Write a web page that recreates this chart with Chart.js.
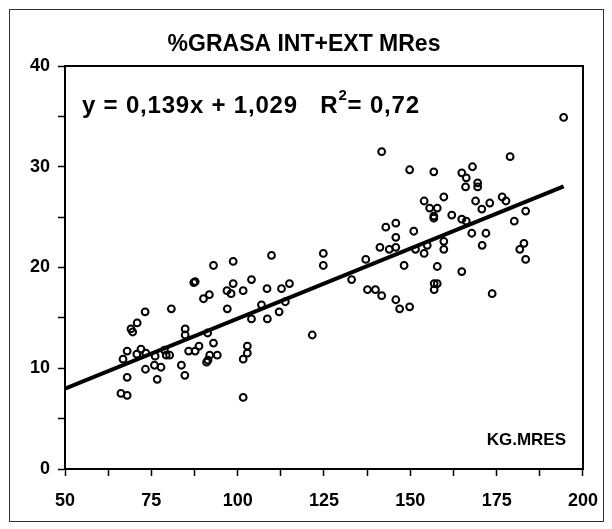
<!DOCTYPE html>
<html>
<head>
<meta charset="utf-8">
<script src="https://cdn.jsdelivr.net/npm/chart.js@4"></script>
<style>
  body { margin: 0; background: #fff; }
  canvas { display: block; }
</style>
</head>
<body>
<canvas id="grasaChart" width="612" height="529"></canvas>
<script>
// KG.MRES vs % grasa (x, y pairs)
const kgMres = [
  73.2, 80.8, 70.9, 69.1, 69.6, 84.8, 84.8, 85.8, 68.0, 66.8, 72.0, 70.8, 73.4,
  76.1, 78.8, 79.3, 80.3, 73.3, 75.9, 77.8, 68.0, 76.7, 83.7, 84.7, 66.2, 68.0,
  109.8, 98.7, 93.0, 87.3, 87.7, 104.0, 98.7, 115.0, 90.1, 91.8, 96.9, 98.1, 101.6,
  108.5, 112.7, 106.9, 113.8, 97.0, 104.0, 108.6, 112.0, 121.6, 91.3, 88.8, 93.0,
  87.7, 91.9, 94.1, 91.4, 91.0, 102.8, 102.8, 101.6, 101.6,
  141.7, 149.8, 156.8, 154.0, 155.6, 157.8, 156.8, 156.8, 142.9, 145.8, 151.0,
  145.8, 141.2, 143.9, 145.8, 151.5, 154.9, 154.0, 137.1, 124.8, 124.8, 148.2,
  157.8, 133.0, 137.6, 139.9, 141.7, 145.8, 146.9, 149.8, 156.9, 157.8, 156.9,
  178.9, 168.0, 164.9, 166.2, 169.5, 169.5, 166.0, 159.7, 168.9, 173.0, 170.7,
  176.6, 177.7, 162.0, 164.9, 166.2, 183.4, 180.1, 167.8, 171.9, 170.8, 159.7,
  159.7, 182.9, 181.7, 183.4, 164.9, 173.7, 194.4
];
const grasa = [
  15.6, 15.9, 14.5, 13.9, 13.6, 13.9, 13.3, 11.7, 11.7, 10.9, 11.9, 11.4, 11.5,
  11.2, 11.8, 11.3, 11.3, 9.9, 10.3, 10.1, 9.1, 8.9, 10.3, 9.3, 7.5, 7.3,
  21.2, 20.6, 20.2, 18.5, 18.6, 18.8, 18.4, 18.4, 16.9, 17.3, 17.7, 17.4, 17.7,
  17.9, 17.9, 16.3, 16.6, 15.9, 14.9, 14.9, 15.6, 13.3, 13.5, 12.2, 12.5,
  11.7, 11.3, 11.3, 10.8, 10.6, 12.2, 11.5, 10.9, 7.1,
  31.5, 29.7, 29.5, 26.6, 25.9, 25.9, 25.1, 24.9, 24.0, 24.4, 23.6,
  23.0, 22.0, 21.8, 22.0, 21.8, 22.2, 21.4, 20.8, 21.4, 20.2, 20.2,
  20.1, 18.8, 17.8, 17.8, 17.2, 16.8, 15.9, 16.1, 18.4, 18.4, 17.8,
  31.0, 30.0, 29.4, 28.9, 28.4, 28.0, 28.0, 27.0, 26.6, 26.4, 25.8,
  27.0, 26.6, 25.2, 24.8, 24.6, 25.6, 24.6, 23.4, 23.4, 22.2, 22.6,
  21.8, 22.4, 21.8, 20.8, 19.6, 17.4, 34.9
];

// trendline coefficients (as printed on the chart)
const slope = 0.139;
const intercept = 1.029;
const trendRange = [50, 194.4];

const xTicks = [50, 75, 100, 125, 150, 175, 200];
const yTicks = [0, 10, 20, 30, 40];

const points = kgMres.map((x, i) => ({ x: x, y: grasa[i] }));
const trend = trendRange.map(x => ({ x: x, y: slope * x + intercept }));

const FONT = "'Liberation Sans', Arial, sans-serif";

const frame = {
  id: 'frame',
  afterDraw(chart) {
    const c = chart.ctx;
    const a = chart.chartArea;
    c.save();
    // outer border
    c.strokeStyle = '#333';
    c.lineWidth = 1;
    c.strokeRect(9.5, 9.5, 594, 512);
    // plot box
    c.strokeStyle = '#000';
    c.lineWidth = 2;
    c.strokeRect(a.left, a.top, a.right - a.left, a.bottom - a.top);

    c.fillStyle = '#000';
    c.textBaseline = 'middle';
    // title
    c.textAlign = 'center';
    c.font = 'bold 23px ' + FONT;
    c.fillText('%GRASA INT+EXT MRes', 304, 45);

    // equation
    c.textAlign = 'left';
    c.letterSpacing = '0.8px';
    c.font = 'bold 24px ' + FONT;
    let x = 82;
    const eq = 'y = 0,139x + 1,029   R';
    c.fillText(eq, x, 106);
    x += c.measureText(eq).width;
    c.font = 'bold 15px ' + FONT;
    c.fillText('2', x, 96);
    x += c.measureText('2').width;
    c.font = 'bold 24px ' + FONT;
    c.fillText('= 0,72', x, 106);
    c.letterSpacing = '0px';

    // axis name
    c.textAlign = 'right';
    c.font = 'bold 17px ' + FONT;
    c.fillText('KG.MRES', 566, 440);
    c.restore();
  }
};

new Chart(document.getElementById('grasaChart'), {
  type: 'scatter',
  data: {
    datasets: [
      {
        data: points,
        pointStyle: 'circle',
        pointRadius: 3.4,
        pointBorderWidth: 2,
        pointBorderColor: '#000',
        pointBackgroundColor: 'rgba(0,0,0,0)',
        showLine: false,
        order: 2
      },
      {
        type: 'line',
        data: trend,
        borderColor: '#000',
        borderWidth: 4,
        pointRadius: 0,
        fill: false,
        order: 1
      }
    ]
  },
  options: {
    responsive: false,
    animation: false,
    layout: { padding: { left: 10, top: 66, right: 29, bottom: 0 } },
    plugins: {
      legend: { display: false },
      title: { display: false },
      tooltip: { enabled: false }
    },
    scales: {
      x: {
        type: 'linear',
        min: 50,
        max: 200,
        afterFit: s => { s.height = 60; },
        ticks: {
          stepSize: 12.5,
          autoSkip: false,
          maxRotation: 0,
          padding: 14,
          color: '#000',
          font: { family: FONT, size: 18, weight: 'bold' },
          callback: v => xTicks.includes(v) ? String(v) : ''
        },
        grid: { drawOnChartArea: false, color: '#000', tickLength: 7, tickWidth: 1.5 },
        border: { color: '#000', width: 2 }
      },
      y: {
        min: 0,
        max: 40,
        afterFit: s => { s.width = 55; },
        ticks: {
          stepSize: 5,
          autoSkip: false,
          padding: 8,
          color: '#000',
          font: { family: FONT, size: 18, weight: 'bold' },
          callback: v => yTicks.includes(v) ? String(v) : ''
        },
        grid: { drawOnChartArea: false, color: '#000', tickLength: 7, tickWidth: 1.5 },
        border: { color: '#000', width: 2 }
      }
    }
  },
  plugins: [frame]
});
</script>
</body>
</html>
